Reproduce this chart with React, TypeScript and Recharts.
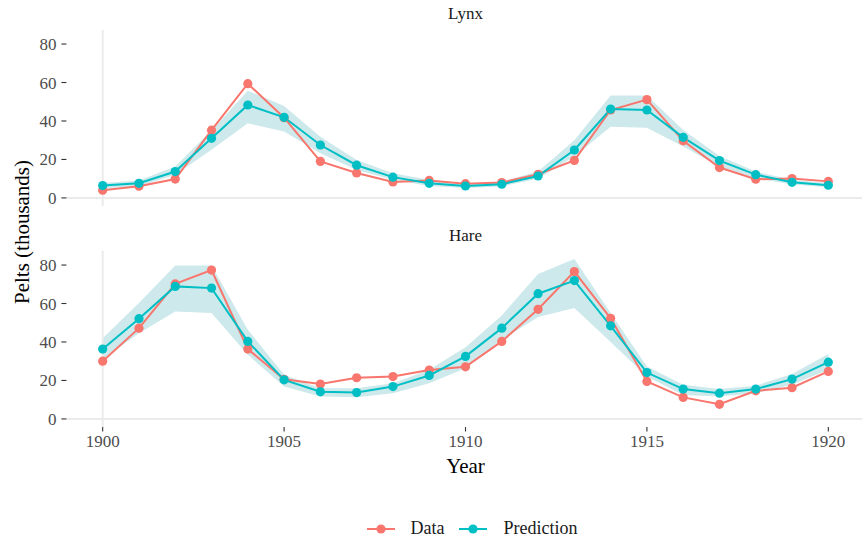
import { Area, ComposedChart, Legend, Line, ReferenceLine, XAxis, YAxis } from "recharts";

const years = [
  1900, 1901, 1902, 1903, 1904, 1905, 1906, 1907, 1908, 1909, 1910,
  1911, 1912, 1913, 1914, 1915, 1916, 1917, 1918, 1919, 1920,
];

// observed pelts, thousands
const lynxObserved = [4.0, 6.1, 9.8, 35.2, 59.4, 41.7, 19.0, 13.0, 8.3, 9.1, 7.4, 8.0, 12.3, 19.5, 45.7, 51.1, 29.7, 15.8, 9.7, 10.1, 8.6];
const hareObserved = [30.0, 47.2, 70.2, 77.4, 36.3, 20.6, 18.1, 21.4, 22.0, 25.4, 27.1, 40.3, 57.0, 76.6, 52.3, 19.5, 11.2, 7.6, 14.6, 16.2, 24.7];

// model predictions with interval bounds
const lynxPredicted = [6.4, 7.6, 13.7, 31.0, 48.3, 41.9, 27.5, 17.0, 10.8, 7.6, 6.2, 7.1, 11.4, 24.9, 46.2, 45.7, 31.5, 19.4, 12.1, 8.1, 6.6];
const lynxLower = [5.0, 6.0, 12.0, 25.0, 38.8, 34.5, 23.2, 14.5, 9.4, 6.2, 5.2, 6.0, 10.0, 21.5, 37.0, 36.5, 26.7, 16.3, 10.2, 7.0, 5.5];
const lynxUpper = [7.8, 9.0, 16.3, 35.0, 55.7, 47.8, 31.8, 19.7, 12.8, 9.4, 7.5, 8.5, 13.7, 30.0, 53.2, 53.2, 35.3, 21.8, 13.7, 9.5, 7.8];

const harePredicted = [36.3, 52.1, 68.9, 68.0, 40.3, 20.3, 14.1, 13.7, 16.8, 22.6, 32.5, 47.2, 65.1, 71.9, 48.4, 24.1, 15.5, 13.4, 15.5, 20.7, 29.5];
const hareLower = [31.0, 44.6, 55.9, 55.0, 33.3, 16.8, 11.6, 11.3, 13.4, 18.6, 26.4, 41.1, 53.0, 57.7, 40.0, 22.0, 12.5, 11.6, 13.4, 17.7, 25.5];
const hareUpper = [42.0, 60.3, 79.7, 79.7, 46.4, 22.9, 16.0, 16.0, 18.6, 25.5, 37.3, 53.8, 75.4, 83.2, 55.0, 27.3, 17.7, 15.6, 17.3, 23.4, 33.7];

const yTicks = [0, 20, 40, 60, 80];
const xTicks = [1900, 1905, 1910, 1915, 1920];

const RED = "#F8766D";
const TEAL = "#00BFC4";
const BAND = "#cde9eb";
const FONT = "'Liberation Serif', 'Times New Roman', serif";

const buildRows = (obs: number[], pred: number[], lo: number[], hi: number[]) =>
  years.map((year, i) => ({ year, data: obs[i], pred: pred[i], band: [lo[i], hi[i]] }));

const lynxRows = buildRows(lynxObserved, lynxPredicted, lynxLower, lynxUpper);
const hareRows = buildRows(hareObserved, harePredicted, hareLower, hareUpper);

const tickText = { fill: "#4d4d4d", fontSize: 17, fontFamily: FONT };

function renderLegend(props: any) {
  const items = (props.payload || []).filter((p: any) => p.type !== "none");
  return (
    <div style={{ display: "flex", justifyContent: "center", alignItems: "center", fontFamily: FONT }}>
      {items.map((p: any, i: number) => (
        <div
          key={p.value}
          style={{ display: "flex", alignItems: "center", marginLeft: i === 0 ? 0 : 15 }}
        >
          <svg width={28} height={14}>
            <line x1={0} y1={7} x2={28} y2={7} stroke={p.color} strokeWidth={2} />
            <circle cx={14} cy={7} r={4.6} fill={p.color} />
          </svg>
          <span style={{ marginLeft: 16, fontSize: 18, color: "#1a1a1a" }}>{p.value}</span>
        </div>
      ))}
    </div>
  );
}

function Panel({ rows, bottom }: { rows: any[]; bottom: boolean }) {
  return (
    <ComposedChart
      width={865}
      height={bottom ? 318 : 220}
      data={rows}
      margin={{ top: bottom ? 30.8 : 29.8, right: 0.4, bottom: bottom ? 81 : 14, left: 0 }}
    >
      <XAxis
        type="number"
        dataKey="year"
        domain={[1899, 1921]}
        ticks={xTicks}
        hide={!bottom}
        height={30}
        axisLine={false}
        tickSize={4.5}
        tickMargin={3}
        tickLine={{ stroke: "#333", strokeWidth: 1.1 }}
        tick={tickText}
        label={{ value: "Year", position: "bottom", offset: 1, fill: "#000", fontSize: 21, fontFamily: FONT }}
      />
      <YAxis
        type="number"
        domain={[-4.2, 87.4]}
        ticks={yTicks}
        allowDataOverflow
        width={66.4}
        axisLine={false}
        tickSize={5}
        tickMargin={5}
        tickLine={{ stroke: "#333", strokeWidth: 1.1 }}
        tick={tickText}
      />
      <ReferenceLine y={0} stroke="#ebebeb" strokeWidth={2} />
      <ReferenceLine x={1900} stroke="#ebebeb" strokeWidth={2} />
      <Area
        dataKey="band"
        stroke="none"
        fill={BAND}
        fillOpacity={1}
        legendType="none"
        isAnimationActive={false}
      />
      <Line
        dataKey="data"
        name="Data"
        stroke={RED}
        strokeWidth={2}
        dot={{ r: 4.6, fill: RED, stroke: RED, strokeWidth: 0 }}
        activeDot={false}
        isAnimationActive={false}
      />
      <Line
        dataKey="pred"
        name="Prediction"
        stroke={TEAL}
        strokeWidth={2}
        dot={{ r: 4.6, fill: TEAL, stroke: TEAL, strokeWidth: 0 }}
        activeDot={false}
        isAnimationActive={false}
      />
      {bottom && (
        <Legend
          verticalAlign="middle"
          layout="horizontal"
          content={renderLegend}
          wrapperStyle={{ top: 298, left: 73, width: 798 }}
        />
      )}
    </ComposedChart>
  );
}

const stripStyle = {
  position: "absolute" as const,
  left: 66.4,
  width: 798.2,
  textAlign: "center" as const,
  fontSize: 17,
  color: "#1a1a1a",
  lineHeight: "20px",
};

export default function App() {
  return (
    <div
      style={{
        position: "absolute",
        left: 0,
        top: 0,
        width: 862,
        height: 538,
        overflow: "hidden",
        background: "#fff",
        fontFamily: FONT,
      }}
    >
      <div style={{ position: "absolute", left: 0, top: 0 }}>
        <Panel rows={lynxRows} bottom={false} />
      </div>
      <div style={{ position: "absolute", left: 0, top: 220 }}>
        <Panel rows={hareRows} bottom />
      </div>
      <div style={{ ...stripStyle, top: 4 }}>Lynx</div>
      <div style={{ ...stripStyle, top: 226 }}>Hare</div>
      <div
        style={{
          position: "absolute",
          left: 22,
          top: 232,
          transform: "translate(-50%, -50%) rotate(-90deg)",
          whiteSpace: "nowrap",
          fontSize: 21,
          color: "#000",
        }}
      >
        Pelts (thousands)
      </div>
    </div>
  );
}
